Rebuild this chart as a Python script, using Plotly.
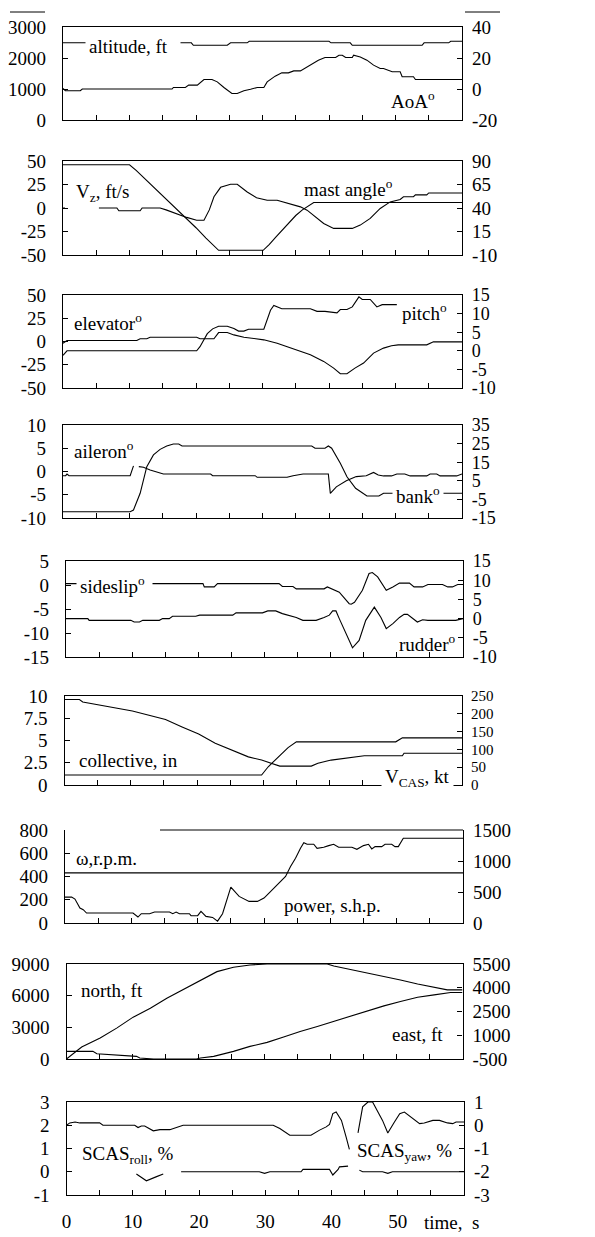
import plotly.graph_objects as go

# ---------------- data (time in s) ----------------
# Panel 1: altitude (ft, left) and AoA (deg, right)
T_ALT = [0, 19.3, 19.6, 24.7, 25.2, 27.7, 28.0, 40.0, 40.3, 43.2, 43.5, 54.0, 54.3, 58.0, 58.3, 60]
ALTITUDE = [2490, 2490, 2410, 2410, 2490, 2490, 2540, 2540, 2490, 2490, 2410, 2410, 2490, 2490, 2540, 2540]
T_AOA = [0, 0.35, 2.6, 2.9, 16.4, 16.6, 18.4, 18.9, 20.2, 20.7, 21.2, 22.4, 23.2, 24.2, 25.4, 26.2,
         27.2, 28.2, 29.2, 30.2, 30.7, 31.9, 32.9, 33.9, 34.7, 35.7, 37.2, 38.4, 39.4, 41.0, 41.5, 42.0,
         42.5, 43.5, 43.7, 44.7, 45.7, 46.7, 47.7, 48.2, 49.5, 50.7, 51.0, 52.7, 53.0, 60]
AOA = [0.4, -1.1, -1.1, 0, 0, 1.0, 1.0, 2.5, 2.5, 4.6, 6.1, 6.1, 4.6, 1.0, -2.9, -2.9,
       -1.1, -0.2, 1.0, 1.0, 4.6, 8.3, 10.4, 10.4, 11.7, 11.7, 15.4, 18.6, 20.3, 20.3, 21.8, 21.8,
       20.3, 20.3, 21.8, 20.7, 18.6, 15.4, 13.2, 13.2, 11.1, 11.1, 7.9, 7.9, 6.1, 6.1]

# Panel 2: Vz (ft/s, left) and mast angle (deg, right)
T_VZ = [0, 10.0, 11.0, 12.5, 14.0, 15.5, 17.0, 18.5, 20.0, 21.5, 23.4, 30.1, 31.0, 32.0, 33.0, 34.0,
        35.0, 36.0, 37.0, 37.7, 60]
VZ = [46, 46, 40, 30, 20, 10, -1, -11, -21, -32, -45, -45, -39, -31, -23, -15, -8, -2, 3, 5.8, 5.8]
T_MAST = [0, 0.3, 0.4, 5.4, 8.1, 8.4, 11.6, 11.9, 14.6, 15.5, 17.1, 18.6, 20.1, 21.2, 22.0, 22.7,
          23.7, 25.2, 26.2, 27.7, 29.1, 30.7, 32.2, 34.2, 35.7, 36.7, 37.9, 39.2, 40.7, 43.5, 44.7,
          46.2, 47.7, 49.2, 50.7, 51.2, 52.7, 53.0, 54.7, 55.0, 60]
MAST_ANGLE = [40, 40, None, 40, 40, 37, 37, 40, 40, 38, 33.5, 30, 27, 27, 38, 52,
              62, 65.3, 65.3, 57, 51, 48.3, 48.3, 44, 41.2, 37.7, 30.6, 23.6, 18.3, 18.3, 21.8,
              28.9, 39.5, 46.5, 49, 52, 52, 54, 54, 56, 56]

# Panel 3: elevator (deg, left) and pitch (deg, right)
T_ELEV = [0, 0.6, 11.1, 11.6, 12.6, 13.1, 20.1, 20.6, 22.7, 23.4, 24.7, 25.7, 27.2, 30.2, 32.2, 34.2,
          35.7, 37.2, 39.2, 40.7, 41.7, 42.7, 43.9, 45.2, 46.7, 48.2, 49.4, 50.4, 54.7, 55.7, 60]
ELEVATOR = [-1.8, 1, 1, 3, 3, 4.6, 4.6, 3, 3, 9.6, 9.6, 7.1, 4.6, 1.8, -1.8, -7.1,
            -10.7, -14.3, -21.4, -28.6, -34.6, -34.6, -28.6, -23.2, -12.5, -7.1, -4.6, -3.6, -3.6, -0.4, -0.4]
T_PITCH = [0, 0.6, 20.1, 20.6, 21.7, 22.5, 23.4, 24.7, 25.7, 26.4, 27.2, 27.9, 30.2, 31.2, 31.7,
           32.9, 37.2, 38.2, 39.4, 40.7, 41.2, 41.7, 42.7, 43.5, 44.5, 45.0, 46.2, 47.2, 48.0, 50.2]
PITCH = [-1.2, 0, 0, 1.1, 4.6, 5.9, 6.6, 6.6, 6.0, 5.3, 5.3, 5.8, 5.8, 10.9, 12.2,
         11.3, 11.3, 10.6, 10.6, 10.2, 10.2, 11.1, 11.1, 11.8, 14.5, 13.8, 13.8, 11.8, 12.4, 12.4]

# Panel 4: aileron (deg, left) and bank (deg, right)
T_AIL = [0, 0.4, 0.6, 0.9, 10.1, 10.6, 10.7, 11.4, 12.1, 13.1, 14.1, 15.1, 22.2, 22.5, 28.9, 29.2,
         33.7, 34.6, 36.1, 39.9, 40.2, 41.1, 42.6, 44.1, 45.6, 46.7, 47.4, 48.2, 49.4, 50.2, 51.4,
         52.2, 54.7, 55.2, 56.2, 56.7, 59.2, 60]
AILERON = [-0.9, -0.9, -0.55, -0.9, -0.9, 1.2, None, 1.04, 0.9, 0.32, -0.18, -0.54, -0.54, -0.9, -0.9, -1.25,
           -1.25, -0.9, -0.54, -0.54, -4.7, -3.3, -2.0, -1.1, -0.9, -0.2, -0.75, -0.95, -0.95, -0.54, -0.54,
           -0.95, -0.95, -0.54, -0.54, -0.95, -0.95, -0.54]
T_BANK = [0, 10.1, 10.6, 11.6, 12.6, 13.6, 14.6, 15.6, 16.6, 17.4, 17.9, 37.4, 37.9, 39.4, 39.9, 40.4,
          41.7, 42.7, 44.0, 45.0, 45.7, 47.5, 48.2, 60]
BANK = [-11.6, -11.6, -10.7, -1.7, 12.6, 18.9, 21.9, 23.7, 24.8, 24.8, 23.7, 23.7, 22.5, 22.5, 23.7, 22.5,
        14.4, 7.2, 1.0, -1.7, -3.2, -3.2, -1.7, -1.7]

# Panel 5: sideslip (deg, left) and rudder (deg, right)
T_SLIP = [0, 20.7, 20.9, 22.4, 22.9, 32.2, 32.7, 34.3, 34.8, 39.0, 39.5, 41.3, 42.8, 43.1, 43.6, 44.8,
          45.8, 46.3, 47.1, 48.4, 49.4, 50.4, 51.9, 52.6, 53.9, 54.7, 56.9, 57.7, 58.4, 59.2, 60]
SIDESLIP = [0.28, 0.28, -0.4, -0.4, 0.28, 0.28, -0.3, -0.3, -0.8, -0.8, -0.4, -1.5, -3.9, -4.0, -3.6, -1.1,
            2.4, 2.6, 1.7, -1.1, -0.4, 0.4, 0.4, -0.4, -0.4, 0.1, 0.1, -0.4, -0.4, 0.1, 0.1]
T_RUD = [0, 3.3, 3.5, 9.8, 10.3, 11.1, 11.6, 14.1, 14.6, 15.6, 16.1, 19.6, 20.2, 25.2, 25.7, 29.7,
         30.5, 31.7, 32.7, 34.8, 35.8, 37.8, 39.0, 39.8, 40.3, 40.8, 41.3, 42.3, 43.3, 44.3, 45.3,
         46.6, 47.6, 48.4, 49.4, 50.4, 51.1, 51.6, 52.4, 53.1, 53.9, 54.7, 58.9, 60]
RUDDER = [0, 0, -0.45, -0.45, -0.9, -0.9, -0.45, -0.45, 0, 0, 0.6, 0.6, 0.9, 0.9, 1.5, 1.5,
          2.0, 2.0, 1.3, 0.3, -0.45, -0.45, 0.3, 0.9, 2.0, 2.0, 0, -3.9, -7.6, -5.7, -0.45,
          3.0, 0.3, -2.6, -1.3, 0.3, 1.1, 1.1, 0, -0.9, -0.3, -0.45, -0.45, 0]

# Panel 6: collective (in, left) and V_CAS (kt, right)
T_COLL = [0, 29.75, 30.75, 32.25, 33.75, 35.0, 50.0, 51.0, 60]
COLLECTIVE = [1.12, 1.12, 2.05, 3.17, 4.2, 4.85, 4.85, 5.3, 5.3]
T_VCAS = [0, 2.25, 2.75, 5.25, 7.75, 10.25, 12.75, 15.25, 17.75, 20.25, 22.75, 25.25, 27.75, 29.75,
          31.25, 32.5, 37.25, 38.25, 40.25, 42.75, 45.25, 51.0, 51.25, 60]
VCAS = [240, 240, 233, 224, 216, 208, 196, 184, 163, 143, 117, 98, 79, 70,
        61, 53, 53, 61, 70, 77, 82, 82, 89, 89]

# Panel 7: rotor speed (r.p.m., left) and power (s.h.p., right)
T_OMEGA = [0, 60]
OMEGA = [431, 431]
T_POWER = [0, 1.0, 1.5, 2.25, 2.75, 3.25, 10.25, 10.75, 11.0, 11.5, 12.75, 13.5, 15.75, 16.25, 16.75,
           17.25, 18.75, 19.0, 20.0, 20.5, 21.25, 22.25, 23.0, 23.75, 25.0, 26.25, 27.25, 27.75, 29.0,
           30.0, 30.75, 31.75, 32.5, 33.25, 34.0, 34.75, 35.5, 36.0, 36.5, 37.5, 38.0, 39.0, 39.75,
           40.5, 41.25, 43.25, 44.0, 45.0, 45.75, 46.25, 46.75, 47.75, 48.25, 49.25, 49.75, 50.25, 51.0, 60]
POWER = [418, 418, 386, 241, 214, 161, 161, 107, 96, 150, 150, 177, 177, 150, 177,
         150, 150, 118, 118, 188, 107, 90, 30, 150, 579, 429, 375, 348, 348,
         402, 482, 589, 670, 750, 911, 1045, 1205, 1296, 1270, 1270, 1205, 1221, 1248,
         1270, 1221, 1221, 1189, 1248, 1270, 1195, 1232, 1232, 1270, 1270, 1232, 1232, 1366, 1366]

# Panel 8: north (ft, left) and east (ft, right)
T_NORTH = [0, 2.3, 5.1, 7.6, 10.1, 12.7, 15.2, 17.7, 20.3, 22.8, 25.3, 27.8, 30.4, 39.5, 40.5, 43.0,
           45.6, 48.1, 50.6, 53.2, 55.7, 57.7, 60]
NORTH = [0, 1133, 1983, 2927, 3965, 4815, 5759, 6608, 7490, 8276, 8685, 8906, 9000, 9000, 8811, 8497,
         8119, 7804, 7490, 7112, 6797, 6545, 6545]
T_EAST = [0, 4.0, 4.6, 7.6, 8.6, 10.6, 11.1, 13.2, 19.7, 20.3, 22.3, 23.3, 25.3, 27.8, 30.4, 32.9,
          35.4, 38.0, 40.5, 43.0, 45.6, 48.1, 50.6, 53.2, 55.7, 58.2, 60]
EAST = [-18, -18, -164, -227, -290, -332, -437, -500, -500, -437, -332, -227, -18, 297, 549, 885,
        1241, 1556, 1871, 2227, 2563, 2857, 3129, 3402, 3549, 3696, 3696]

# Panel 9: SCAS roll (%, left) and SCAS yaw (%, right)
T_ROLL = [10.55, 12.06, 13.6, 14.6, 15.9, 17.3, 29.1, 29.9, 30.7, 35.4, 35.7, 39.7, 40.2, 41.0, 41.2,
          42.5, 43.3, 44.2, 44.7, 47.7, 48.5, 49.2, 60]
SCAS_ROLL = [-0.1, -0.39, -0.21, -0.1, None, 0, 0, -0.07, 0, 0, 0.1, 0.1, -0.14, 0.1, 0.21,
             0.24, None, 0.07, 0, 0, -0.07, 0, 0]
T_YAW = [0, 0.5, 1.3, 2.0, 5.0, 5.5, 10.3, 10.8, 11.3, 11.8, 13.1, 14.1, 15.6, 16.6, 17.6, 31.2,
         32.2, 33.7, 36.9, 38.2, 39.2, 39.7, 40.2, 40.7, 41.5, 42.2, 42.7, 43.3, 44.0, 44.7, 45.5,
         46.2, 47.7, 48.5, 49.5, 50.3, 51.0, 52.0, 53.3, 54.0, 55.3, 56.3, 57.5, 58.3, 58.8, 60]
SCAS_YAW = [0, 0.1, 0.14, 0.1, 0.1, 0, 0, -0.1, -0.03, -0.03, -0.24, -0.19, -0.19, -0.1, 0, 0,
            -0.14, -0.43, -0.43, -0.21, -0.07, 0.04, 0.5, 0.57, 0.21, -0.5, -1.04, None, -0.33, 0.79, 1.0,
            1.0, 0.21, -0.33, 0.14, 0.5, 0.57, 0.36, 0.07, 0.1, 0.21, 0.21, 0.1, 0.07, 0.14, 0.14]

# axis tick values
X_TICKS = [0, 10, 20, 30, 40, 50]
LEFT_TICKS = [[0, 1000, 2000, 3000], [-50, -25, 0, 25, 50], [-50, -25, 0, 25, 50], [-10, -5, 0, 5, 10],
              [-15, -10, -5, 0, 5], [0, 2.5, 5, 7.5, 10], [0, 200, 400, 600, 800], [0, 3000, 6000, 9000],
              [-1, 0, 1, 2, 3]]
RIGHT_TICKS = [[-20, 0, 20, 40], [-10, 15, 40, 65, 90], [-10, -5, 0, 5, 10, 15], [-15, -5, 5, 15, 25, 35],
               [-10, -5, 0, 5, 10, 15], [0, 50, 100, 150, 200, 250], [0, 500, 1000, 1500],
               [-500, 1000, 2500, 4000, 5500], [-3, -2, -1, 0, 1]]

SERIES = [
    [(T_ALT, ALTITUDE, "L"), (T_AOA, AOA, "R")],
    [(T_VZ, VZ, "L"), (T_MAST, MAST_ANGLE, "R")],
    [(T_ELEV, ELEVATOR, "L"), (T_PITCH, PITCH, "R")],
    [(T_AIL, AILERON, "L"), (T_BANK, BANK, "R")],
    [(T_SLIP, SIDESLIP, "L"), (T_RUD, RUDDER, "R")],
    [(T_COLL, COLLECTIVE, "L"), (T_VCAS, VCAS, "R")],
    [(T_OMEGA, OMEGA, "L"), (T_POWER, POWER, "R")],
    [(T_NORTH, NORTH, "L"), (T_EAST, EAST, "R")],
    [(T_ROLL, SCAS_ROLL, "L"), (T_YAW, SCAS_YAW, "R")],
]

# ---------------- layout geometry (px) ----------------
W, H = 595, 1237
FONT = "Liberation Serif"
FS = 19
BOXES = [(63, 462, 27, 120), (63, 462, 161, 255), (63, 462, 295, 388), (63, 462, 425, 518),
         (66, 463, 561, 657), (64.5, 462, 696, 785), (65, 463, 830, 923), (66.5, 462.5, 964, 1059),
         (66.5, 464, 1102, 1195)]
RIGHT_FS = [19, 19, 18, 18, 18, 15, 19, 19, 19]


def px(x):
    return x / W


def py(y):
    return 1 - y / H


def aid(prefix, n):
    return prefix if n == 1 else f"{prefix}{n}"


def lab(v):
    return f"{v:g}"  # plain hyphen-minus like the reference


fig = go.Figure()
layout = dict(width=W, height=H, margin=dict(l=0, r=0, t=0, b=0, pad=0, autoexpand=False),
              autosize=False, paper_bgcolor="white", plot_bgcolor="white", showlegend=False,
              font=dict(family=FONT, size=FS, color="black"))

for i in range(9):
    p = i + 1
    l, r, t, b = BOXES[i]
    xn, yl, yr = p, 2 * p - 1, 2 * p
    last = (p == 9)
    layout[aid("xaxis", xn)] = dict(
        domain=[px(l), px(r)], anchor=aid("y", yl), range=[0, 60], automargin=False,
        showline=True, linecolor="black", linewidth=1.2, mirror=(p != 7),
        ticks="inside", ticklen=5, tickcolor="black", tickwidth=1,
        tickmode="array", tickvals=X_TICKS, ticktext=[lab(v) for v in X_TICKS],
        minor=dict(dtick=5, tick0=0, ticks="inside", ticklen=5, tickcolor="black", tickwidth=1,
                   showgrid=False),
        showticklabels=last, ticklabelstandoff=9,
        showgrid=False, zeroline=False, fixedrange=True)
    lt, rt = LEFT_TICKS[i], RIGHT_TICKS[i]
    layout[aid("yaxis", yl)] = dict(
        domain=[py(b), py(t)], anchor=aid("x", xn), range=[lt[0], lt[-1]], side="left",
        automargin=False, showline=True, linecolor="black", linewidth=1.2,
        ticks="inside", ticklen=5, tickcolor="black", tickwidth=1,
        tickmode="array", tickvals=lt, ticktext=[lab(v) for v in lt], ticklabelstandoff=12,
        showgrid=False, zeroline=False, fixedrange=True)
    layout[aid("yaxis", yr)] = dict(
        overlaying=aid("y", yl), anchor=aid("x", xn), range=[rt[0], rt[-1]], side="right",
        automargin=False, showline=True, linecolor="black", linewidth=1.2,
        ticks="inside", ticklen=5, tickcolor="black", tickwidth=1,
        tickmode="array", tickvals=rt, ticktext=[lab(v) for v in rt], ticklabelstandoff=5,
        tickfont=dict(family=FONT, size=RIGHT_FS[i], color="black"),
        showgrid=False, zeroline=False, fixedrange=True)
    for tt, vv, side in SERIES[i]:
        fig.add_trace(go.Scatter(x=tt, y=vv, mode="lines",
                                 line=dict(color="black", width=1.1),
                                 xaxis=aid("x", xn), yaxis=aid("y", yl if side == "L" else yr),
                                 hoverinfo="skip", connectgaps=False))

LABELS = [
    ("altitude, ft&nbsp;&nbsp;", 85, 47, True),
    ("AoA<sup>o</sup>", 387, 100, False),
    ("V<sub>z</sub>, ft/s", 72, 193, False),
    ("mast angle<sup>o</sup>", 300, 188, False),
    ("elevator<sup>o</sup>", 70, 322, False),
    ("pitch<sup>o</sup>", 398, 312, True),
    ("aileron<sup>o</sup>", 70, 450, False),
    ("bank<sup>o</sup>", 392, 495, True),
    ("sideslip<sup>o</sup>&nbsp;", 76, 585, True),
    ("rudder<sup>o</sup>", 395, 643, False),
    ("collective, in", 75, 760, False),
    ("V<sub>CAS</sub>, kt", 381, 778, True),
    ("ω,r.p.m.", 72, 858, False),
    ("power, s.h.p.", 280, 905, False),
    ("north, ft", 77, 990, False),
    ("east, ft", 388, 1034, False),
    ("SCAS<sub>roll</sub>, %", 78, 1155, False),
    ("SCAS<sub>yaw</sub>, %", 353, 1152, True),
    ("time,&nbsp;&nbsp;s", 420, 1222, False),
]
annotations = []
for text, x, y, bg in LABELS:
    annotations.append(dict(text=text, x=px(x), y=py(y), xref="paper", yref="paper",
                            xanchor="left", yanchor="middle", showarrow=False,
                            font=dict(family=FONT, size=FS, color="black"),
                            bgcolor="white" if bg else "rgba(0,0,0,0)", borderpad=3))
layout["annotations"] = annotations

shapes = [
    dict(type="line", xref="paper", yref="paper", x0=px(10), x1=px(45), y0=py(12), y1=py(12),
         line=dict(color="black", width=1)),
    dict(type="line", xref="paper", yref="paper", x0=px(465), x1=px(500), y0=py(12), y1=py(12),
         line=dict(color="black", width=1)),
    dict(type="line", xref="paper", yref="paper", x0=px(160), x1=px(463), y0=py(830), y1=py(830),
         line=dict(color="black", width=1.2)),
]
layout["shapes"] = shapes

fig.update_layout(**layout)
fig.write_html("out.html")
